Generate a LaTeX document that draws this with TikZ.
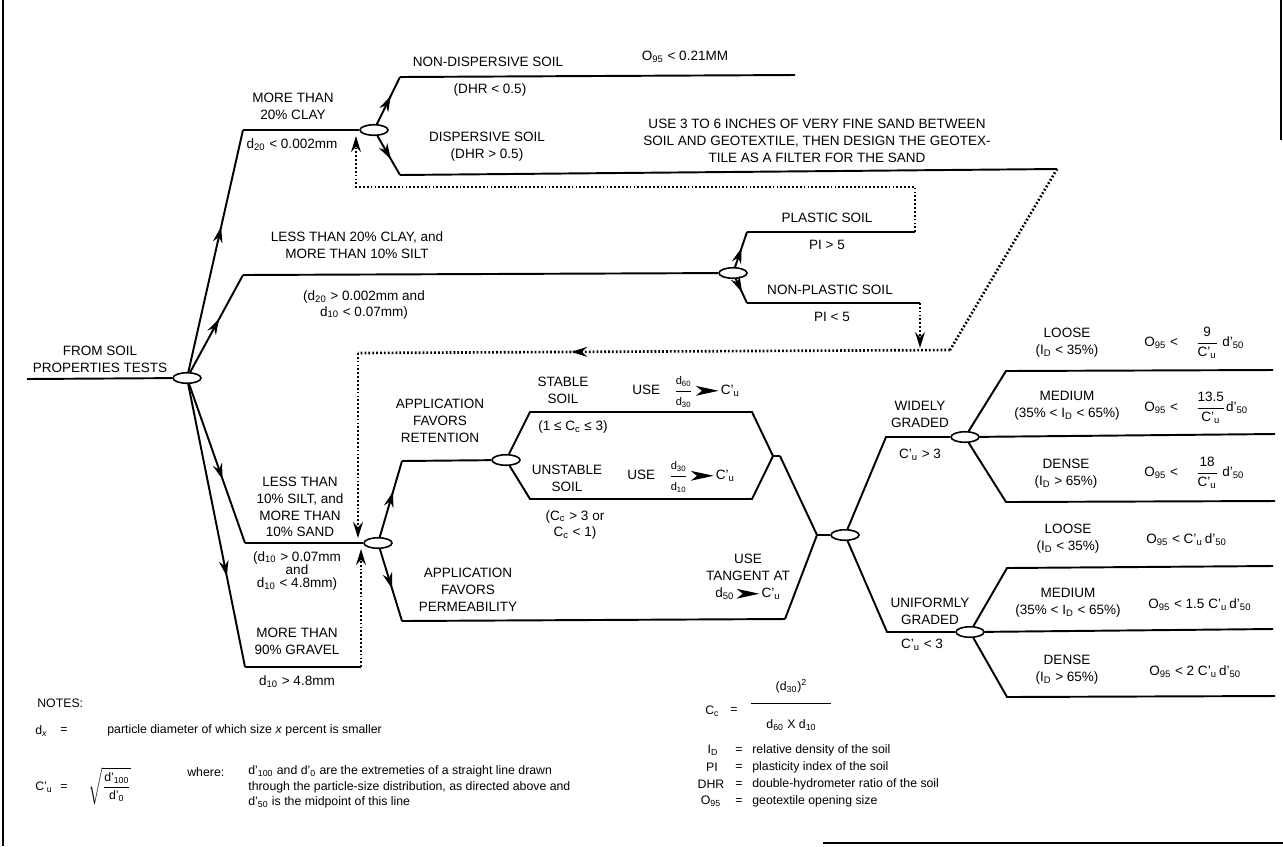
\documentclass[tikz,border=0pt]{standalone}
\usepackage{amsmath}
\usepackage{fontspec}
\setmainfont{Liberation Sans}
\usepackage{tikz}
\usetikzlibrary{shapes,arrows.meta,decorations.markings}

\newcommand{\Ds}[1]{d\textsubscript{#1}}
\newcommand{\Dp}[1]{d’\textsubscript{#1}}
\newcommand{\Cu}{C’\textsubscript{u}}
\newcommand{\Cc}{C\textsubscript{c}}
\newcommand{\Id}{I\textsubscript{D}}
\newcommand{\Onf}{O\textsubscript{95}}
\newcommand{\notefont}{\fontsize{7}{9}\selectfont}
\newcommand{\smallfr}{\fontsize{6.3}{7}\selectfont}
\newcommand{\yields}{\,\tikz[baseline=-0.55ex]\fill (0pt,2.8pt) -- (13pt,0pt) -- (0pt,-2.8pt) -- (3.5pt,0pt) -- cycle;\,}

\tikzstyle{junc} = [draw, fill=white, ellipse, line width=0.9pt,
    minimum width=0.56cm, minimum height=0.21cm, inner sep=0pt]
\tikzstyle{lbl} = [align=center, inner sep=0pt]
\tikzstyle{note} = [anchor=west, inner sep=0pt, font=\notefont]
\tikzstyle{wire} = [line width=1.1pt]
\tikzstyle{loopback} = [line width=1.5pt, dash pattern=on 1pt off 1.2pt]
\tikzstyle{endtip} = [-{Stealth[length=9pt,width=5.5pt]}]
\tikzset{midarrow/.style={postaction={decorate,decoration={markings,
    mark=at position #1 with {\arrow{Stealth[length=9pt,width=5.5pt]}}}}}}

\begin{document}
\begin{tikzpicture}[x=0.02cm, y=-0.02cm, font=\fontsize{7.7}{9.6}\selectfont]
    \useasboundingbox (0,0) rectangle (1283,846);

    % frame
    \draw[line width=1.2pt] (3,0) -- (3,846);
    \draw[line width=0.8pt] (1281,0) -- (1281,140);
    \draw[line width=1.2pt] (823,843) -- (1283,843);

    % root
    \coordinate (in) at (27,379);
    \node [junc] (root) at (187,378) {};
    \node [lbl] (fromtxt) at (100,359) {FROM SOIL\\PROPERTIES TESTS};
    \draw [wire] (in) -- (root);

    % first split
    \coordinate (clayk) at (243,130);
    \node [junc] (clay) at (374,130) {};
    \draw [wire, midarrow=0.6] (root) -- (clayk);
    \draw [wire] (clayk) -- (clay);
    \node [lbl] at (293,106) {MORE THAN\\20\% CLAY};
    \node [lbl] at (292,145) {\Ds{20} < 0.002mm};

    \coordinate (siltk) at (243,275);
    \node [junc] (silt) at (733,273) {};
    \draw [wire, midarrow=0.55] (root) -- (siltk);
    \draw [wire] (siltk) -- (silt);
    \node [lbl] at (357,245) {LESS THAN 20\% CLAY, and\\MORE THAN 10\% SILT};
    \node [lbl] at (364,305) {(\Ds{20} > 0.002mm and\\[-1pt]\Ds{10} < 0.07mm)};

    \coordinate (sandk) at (245,543);
    \node [junc] (sand) at (378,543) {};
    \draw [wire, midarrow=0.6] (root) -- (sandk);
    \draw [wire] (sandk) -- (sand);
    \node [lbl] at (300,507) {LESS THAN\\10\% SILT, and\\MORE THAN\\10\% SAND};
    \node [lbl] at (297,571) {(\Ds{10} > 0.07mm\\[-2pt]and\\[-2pt]\Ds{10} < 4.8mm)};

    \coordinate (gravk) at (245,667);
    \coordinate (gravend) at (361,667);
    \coordinate (gravup) at (361,549);
    \draw [wire, midarrow=0.68] (root) -- (gravk);
    \draw [wire] (gravk) -- (gravend);
    \draw [loopback, endtip] (gravend) -- (gravup);
    \node [lbl] at (297,641) {MORE THAN\\90\% GRAVEL};
    \node [lbl] at (297,682) {\Ds{10} > 4.8mm};

    % clay
    \coordinate (ndk) at (400,77);
    \coordinate (ndend) at (795,75);
    \draw [wire, midarrow=0.6] (clay) -- (ndk);
    \draw [wire] (ndk) -- (ndend);
    \node [lbl] at (488,62) {NON-DISPERSIVE SOIL};
    \node [lbl] at (490,90) {(DHR < 0.5)};
    \node [lbl] at (685,57) {\Onf{} < 0.21MM};

    \coordinate (dsk) at (400,175);
    \coordinate (dsend) at (1057,169);
    \draw [wire, midarrow=0.6] (clay) -- (dsk);
    \draw [wire] (dsk) -- (dsend);
    \node [lbl] at (487,147) {DISPERSIVE SOIL\\(DHR > 0.5)};
    \node [lbl] at (817,141) {USE 3 TO 6 INCHES OF VERY FINE SAND BETWEEN\\SOIL AND GEOTEXTILE, THEN DESIGN THE GEOTEX-\\TILE AS A FILTER FOR THE SAND};

    % silt
    \coordinate (plk) at (747,232);
    \coordinate (plend) at (915,232);
    \draw [wire, midarrow=0.55] (silt) -- (plk);
    \draw [wire] (plk) -- (plend);
    \node [lbl] at (827,218) {PLASTIC SOIL};
    \node [lbl] at (827,245) {PI > 5};

    \coordinate (npk) at (747,303);
    \coordinate (npend) at (920,303);
    \draw [wire, midarrow=0.55] (silt) -- (npk);
    \draw [wire] (npk) -- (npend);
    \node [lbl] at (830,290) {NON-PLASTIC SOIL};
    \node [lbl] at (832,317) {PI < 5};

    % dotted returns
    \coordinate (pltop) at (915,187);
    \coordinate (clayret) at (356,187);
    \coordinate (claytip) at (356,136);
    \draw [loopback, endtip] (plend) -- (pltop) -- (clayret) -- (claytip);

    \coordinate (npdown) at (920,348);
    \draw [loopback, endtip] (npend) -- (npdown);

    \coordinate (dsbend) at (950,350);
    \coordinate (sandret) at (358,353);
    \coordinate (sandtip) at (358,538);
    \draw [loopback] (dsend) -- (dsbend);
    \draw [loopback, midarrow=0.64] (dsbend) -- (sandret);
    \draw [loopback, endtip] (sandret) -- (sandtip);

    % sand
    \coordinate (retk) at (402,461);
    \node [junc] (ret) at (506,460) {};
    \draw [wire, midarrow=0.6] (sand) -- (retk);
    \draw [wire] (retk) -- (ret);
    \node [lbl] at (440,421) {APPLICATION\\FAVORS\\RETENTION};

    \coordinate (permk) at (402,621);
    \coordinate (permend) at (785,619);
    \draw [wire, midarrow=0.55] (sand) -- (permk);
    \draw [wire] (permk) -- (permend);
    \node [lbl] at (468,590) {APPLICATION\\FAVORS\\PERMEABILITY};
    \node [lbl] at (748,577) {USE\\TANGENT AT\\\Ds{50}\yields\Cu};

    % retention
    \coordinate (stk) at (530,412);
    \coordinate (stend) at (752,412);
    \coordinate (unk) at (530,499);
    \coordinate (unend) at (752,499);
    \coordinate (joinl) at (773,456);
    \coordinate (joinr) at (780,456);
    \draw [wire] (ret) -- (stk) -- (stend) -- (joinl);
    \draw [wire] (ret) -- (unk) -- (unend) -- (joinl) -- (joinr);
    \node [lbl] at (563,390) {STABLE\\SOIL};
    \node [lbl] at (573,427) {(1 ≤ \Cc{} ≤ 3)};
    \node [lbl, anchor=west] at (632,392) {USE\quad$\dfrac{\text{\smallfr\Ds{60}}}{\text{\smallfr\Ds{30}}}$\yields\Cu};
    \node [lbl] at (567,478) {UNSTABLE\\SOIL};
    \node [lbl, anchor=west] at (627,477) {USE\quad$\dfrac{\text{\smallfr\Ds{30}}}{\text{\smallfr\Ds{10}}}$\yields\Cu};
    \node [lbl] at (575,525) {(\Cc{} > 3 or\\\Cc{} < 1)};

    % gradation
    \coordinate (mergek) at (817,535);
    \node [junc] (grad) at (845,535) {};
    \draw [wire] (joinr) -- (mergek) -- (grad);
    \draw [wire] (permend) -- (mergek);

    \coordinate (wk) at (886,437);
    \node [junc] (wide) at (965,437) {};
    \draw [wire] (grad) -- (wk) -- (wide);
    \node [lbl] at (920,414) {WIDELY\\GRADED};
    \node [lbl] at (920,455) {\Cu{} > 3};

    \coordinate (uk) at (887,632);
    \node [junc] (unif) at (970,632) {};
    \draw [wire] (grad) -- (uk) -- (unif);
    \node [lbl] at (930,611) {UNIFORMLY\\GRADED};
    \node [lbl] at (922,645) {\Cu{} < 3};

    % widely graded
    \coordinate (wlk) at (1006,371);
    \coordinate (wlend) at (1273,370);
    \coordinate (wmend) at (1275,434);
    \coordinate (wdk) at (1006,502);
    \coordinate (wdend) at (1275,501);
    \draw [wire] (wide) -- (wlk) -- (wlend);
    \draw [wire] (wide) -- (wmend);
    \draw [wire] (wide) -- (wdk) -- (wdend);
    \node [lbl] at (1067,343) {LOOSE\\(\Id{} < 35\%)};
    \node [lbl] at (1067,406) {MEDIUM\\(35\% < \Id{} < 65\%)};
    \node [lbl] at (1066,474) {DENSE\\(\Id{} > 65\%)};
    \node [lbl, anchor=west] at (1144,343) {\Onf{} <\hspace{1.3em}$\dfrac{\text{9}}{\text{\Cu}}$ \Dp{50}};
    \node [lbl, anchor=west] at (1144,408) {\Onf{} <\hspace{1.3em}$\dfrac{\text{13.5}}{\text{\Cu}}$\Dp{50}};
    \node [lbl, anchor=west] at (1144,473) {\Onf{} <\hspace{1.3em}$\dfrac{\text{18}}{\text{\Cu}}$ \Dp{50}};

    % uniformly graded
    \coordinate (ulk) at (1007,568);
    \coordinate (ulend) at (1273,566);
    \coordinate (umend) at (1273,629);
    \coordinate (udk) at (1007,697);
    \coordinate (udend) at (1275,696);
    \draw [wire] (unif) -- (ulk) -- (ulend);
    \draw [wire] (unif) -- (umend);
    \draw [wire] (unif) -- (udk) -- (udend);
    \node [lbl] at (1068,539) {LOOSE\\(\Id{} < 35\%)};
    \node [lbl] at (1068,603) {MEDIUM\\(35\% < \Id{} < 65\%)};
    \node [lbl] at (1067,670) {DENSE\\(\Id{} > 65\%)};
    \node [lbl, anchor=west] at (1146,540) {\Onf{} < \Cu\,\Dp{50}};
    \node [lbl, anchor=west] at (1148,605) {\Onf{} < 1.5 \Cu\,\Dp{50}};
    \node [lbl, anchor=west] at (1149,672) {\Onf{} < 2 \Cu\,\Dp{50}};

    % notes
    \node [note] (notes) at (37,703) {NOTES:};
    \node [note] at (35,731) {d\textsubscript{\textit{x}}};
    \node [note] at (60,730) {=};
    \node [note] at (107,730) {particle diameter of which size \textit{x} percent is smaller};
    \node [note] at (35,787) {\Cu};
    \node [note] at (60,787) {=};
    \node [note] at (88,786) {$\sqrt{\dfrac{\text{\Dp{100}}}{\text{\Dp{0}}}}$};
    \node [note] at (187,772) {where:};
    \node [note, align=left, anchor=north west] at (248,765) {\Dp{100} and \Dp{0} are the extremeties of a straight line drawn\\
        through the particle-size distribution, as directed above and\\
        \Dp{50} is the midpoint of this line};

    \node [note] at (705,711) {\Cc};
    \node [note] at (730,710) {=};
    \node [note] at (749,705) {$\dfrac{\text{(\Ds{30})\textsuperscript{2}}\rule[-6pt]{0pt}{10pt}}{\makebox[1.6cm]{\Ds{60} X \Ds{10}}\rule{0pt}{13pt}}$};
    \node [note, anchor=center] at (713,750) {\Id};
    \node [note, anchor=center] at (712,767) {PI};
    \node [note, anchor=center] at (711,784) {DHR};
    \node [note, anchor=center] at (711,801) {\Onf};
    \foreach \yy in {750,767,784,801}
        \node [note, anchor=center] at (739,\yy) {=};
    \node [note] at (752,750) {relative density of the soil};
    \node [note] at (752,767) {plasticity index of the soil};
    \node [note] at (752,784) {double-hydrometer ratio of the soil};
    \node [note] at (752,801) {geotextile opening size};
\end{tikzpicture}
\end{document}
